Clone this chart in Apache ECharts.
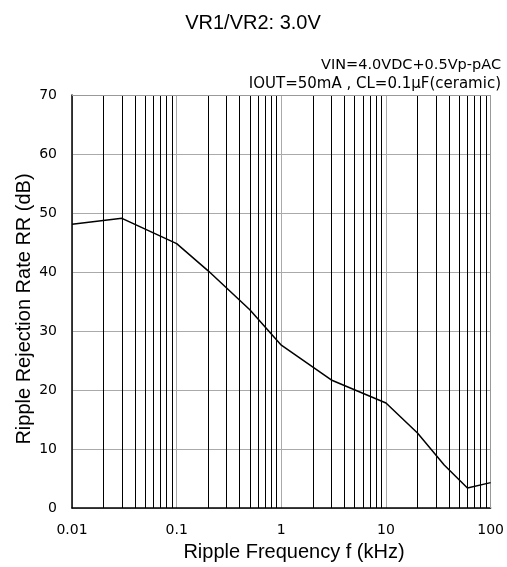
<!DOCTYPE html>
<html>
<head>
<meta charset="utf-8">
<script src="https://cdn.jsdelivr.net/npm/echarts@6/dist/echarts.min.js"></script>
<style>
  html, body { margin: 0; padding: 0; background: #fff; }
  #chart { width: 507px; height: 567px; }
</style>
</head>
<body>
<div id="chart"></div>
<script>
// ripple frequency (kHz) vs rejection rate (dB)
const freqKHz = [0.01, 0.03, 0.1, 0.2, 0.3, 0.5, 1, 3, 10, 20, 36, 60, 100];
const rrDb    = [48.1, 49.1, 44.8, 40.2, 37.3, 33.6, 27.6, 21.7, 17.8, 12.7, 7.3, 3.4, 4.3];

const yTicks = [0, 10, 20, 30, 40, 50, 60, 70];
const decades = [0.01, 0.1, 1, 10];
const minorSteps = [2, 3, 4, 5, 6, 7, 8, 9];

const minorLines = [];
decades.forEach(d => minorSteps.forEach(m => minorLines.push({ xAxis: +(d * m).toPrecision(3) })));

const font = "'Liberation Sans', Arial, sans-serif";
const wideFont = "'DejaVu Sans', sans-serif";

function centeredText(text, x, y, size, family, rotation) {
    return {
        type: "text",
        x: x,
        y: y,
        rotation: rotation || 0,
        style: {
            text: text,
            font: size + "px " + family,
            fill: "#000",
            align: "center",
            verticalAlign: "middle",
            textAlign: "center",
            textVerticalAlign: "middle"
        }
    };
}

function rightText(text, x, y, size, family) {
    const el = centeredText(text, x, y, size, family);
    el.style.align = "right";
    el.style.textAlign = "right";
    return el;
}

const chart = echarts.init(document.getElementById("chart"), null, { renderer: "canvas" });

chart.setOption({
    animation: false,
    backgroundColor: "#fff",
    grid: { left: 72, top: 95, right: 14, bottom: 59 },
    graphic: [
        centeredText("VR1/VR2: 3.0V", 253, 23, 20, font),
        rightText("VIN=4.0VDC+0.5Vp-pAC", 501, 65, 14.5, wideFont),
        rightText("IOUT=50mA , CL=0.1μF(ceramic)", 501, 84, 15, wideFont),
        centeredText("Ripple Frequency f (kHz)", 294, 552, 20, font),
        centeredText("Ripple Rejection Rate RR (dB)", 24, 309, 20, font, Math.PI / 2)
    ],
    xAxis: {
        type: "log",
        logBase: 10,
        min: 0.01,
        max: 100,
        axisLine: { show: true, lineStyle: { color: "#000", width: 1.5 } },
        axisTick: { show: false },
        axisLabel: {
            fontFamily: wideFont, fontSize: 14, color: "#000", margin: 15,
            formatter: v => String(+v.toPrecision(3))
        },
        splitLine: { show: true, lineStyle: { color: "#aaa", width: 1 } }
    },
    yAxis: {
        type: "value",
        min: 0,
        max: 70,
        interval: 10,
        axisLine: { show: true, lineStyle: { color: "#000", width: 1.5 } },
        axisTick: { show: false },
        axisLabel: {
            fontFamily: wideFont, fontSize: 14, color: "#000", margin: 15,
            formatter: v => yTicks.includes(v) ? String(v) : ""
        },
        splitLine: { show: true, lineStyle: { color: "#aaa", width: 1 } }
    },
    series: [
        {
            type: "line",
            data: freqKHz.map((f, i) => [f, rrDb[i]]),
            symbol: "none",
            lineStyle: { color: "#000", width: 1.5 },
            z: 5,
            markLine: {
                silent: true,
                symbol: "none",
                label: { show: false },
                lineStyle: { color: "#000", width: 1, type: "solid" },
                data: minorLines,
                z: 1
            }
        },
        {
            // top and right frame
            type: "line",
            data: [],
            markLine: {
                silent: true,
                symbol: "none",
                label: { show: false },
                lineStyle: { color: "#999", width: 1, type: "solid" },
                data: [{ yAxis: 70 }, { xAxis: 100 }]
            }
        }
    ]
});
</script>
</body>
</html>
